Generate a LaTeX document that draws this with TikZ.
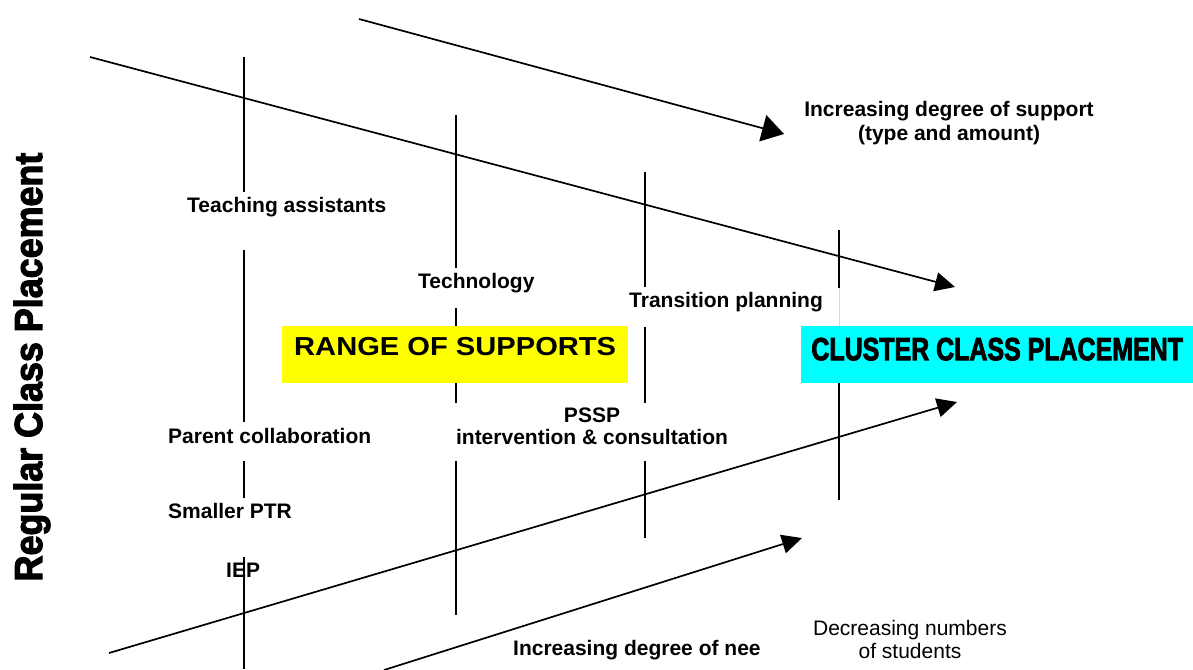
\documentclass[tikz,border=0pt]{standalone}
\usepackage{fontspec}
\setmainfont{Liberation Sans}
\newfontfamily\heavyfont{Liberation Sans Bold}[FakeBold=3]
\usetikzlibrary{arrows.meta}
\definecolor{rangeyellow}{RGB}{255,255,0}
\definecolor{clustercyan}{RGB}{0,255,255}
\begin{document}
\begin{tikzpicture}[x=1pt, y=-1pt,
        lbl/.style={inner sep=0pt, font=\fontsize{21}{22}\selectfont\bfseries},
        note/.style={inner sep=0pt, align=center, font=\fontsize{21}{23}\selectfont},
        banner/.style={inner sep=0pt, anchor=north west, minimum height=57pt},
        rule/.style={line width=1.1pt},
        arrow/.style={-{Triangle[length=20pt, width=19pt]}, line width=1.7pt}
    ]
        \useasboundingbox (0,0) rectangle (1193,669);

        \foreach \a/\b in {57/192, 250/422, 461/498, 557/669} \draw[rule] (244,\a) -- (244,\b);
        \foreach \a/\b in {115/268, 308/403, 461/615} \draw[rule] (456,\a) -- (456,\b);
        \foreach \a/\b in {172/287, 327/403, 461/538} \draw[rule] (645,\a) -- (645,\b);
        \foreach \a/\b in {230/288, 383/500} \draw[rule] (839,\a) -- (839,\b);
        \draw[black!15, line width=0.8pt] (839,288) -- (839,326);

        \coordinate (s1) at (359,19);   \coordinate (t1) at (784,134);
        \coordinate (s2) at (90,57);    \coordinate (t2) at (955,287);
        \coordinate (s3) at (109,653);  \coordinate (t3) at (957,402);
        \coordinate (s4) at (384,670);  \coordinate (t4) at (802,538);

        \draw[arrow, -{Triangle[length=22pt, width=27pt]}] (s1) -- (t1);
        \draw[arrow] (s2) -- (t2);
        \draw[arrow] (s3) -- (t3);
        \draw[arrow] (s4) -- (t4);

        \node[banner, fill=rangeyellow, minimum width=346pt, text height=29pt, text depth=28pt,
            font=\fontsize{26}{26}\selectfont\bfseries] (range) at (282,326)
            {\scalebox{1.12}[1]{RANGE OF SUPPORTS}};
        \node[banner, fill=clustercyan, minimum width=392pt, text height=34pt, text depth=23pt,
            font=\heavyfont\fontsize{32}{32}\selectfont] (cluster) at (801,326)
            {\scalebox{0.78}[1]{CLUSTER CLASS PLACEMENT}};

        \node[inner sep=0pt, rotate=90, anchor=base, font=\heavyfont\fontsize{39}{39}\selectfont]
            (regular) at (42,367) {\scalebox{0.92}[1]{Regular Class Placement}};

        \node[lbl, anchor=base west] (ta) at (187,212) {Teaching assistants};
        \node[lbl, anchor=base west] (tech) at (418,288) {Technology};
        \node[lbl, anchor=base west] (trans) at (629,307) {Transition planning};
        \node[lbl, anchor=base west] (parent) at (168,443) {Parent collaboration};
        \node[lbl, anchor=base west] (ptr) at (168,518) {Smaller PTR};
        \node[lbl, anchor=base west] (iep) at (226,577) {IEP};
        \node[lbl, align=center, anchor=north] (pssp) at (592,408) {PSSP\\intervention \& consultation};
        \node[lbl, align=center, anchor=north, font=\fontsize{21}{24}\selectfont\bfseries] (supp) at (949,101)
            {Increasing degree of support\\(type and amount)};
        \node[lbl, anchor=base west] (need) at (513,655) {Increasing degree of nee};
        \node[note, anchor=north] (fewer) at (910,620) {Decreasing numbers\\of students};
    \end{tikzpicture}
\end{document}
